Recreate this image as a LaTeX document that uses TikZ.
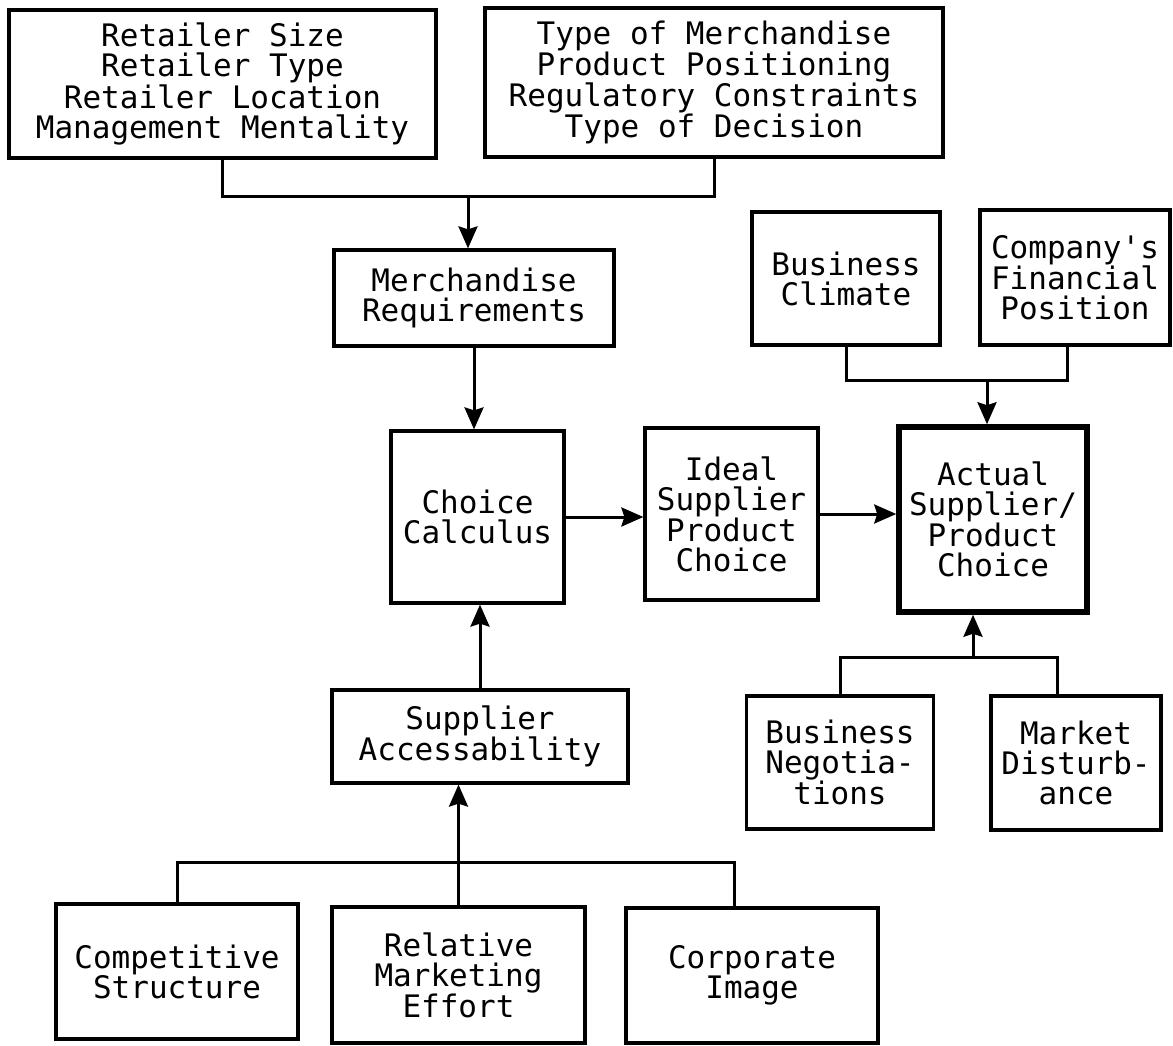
\documentclass[tikz,border=0pt]{standalone}
\usepackage{fontspec}
\setmonofont{DejaVu Sans Mono}
\usetikzlibrary{arrows.meta}
\newcommand\plotfont{\ttfamily\fontsize{31}{30}\selectfont}
\tikzset{
  box/.style={draw, line width=3.2pt, inner sep=0pt, align=center, font=\plotfont},
  heavybox/.style={box, line width=5.5pt},
  link/.style={line width=3pt},
  arr/.style={link, -{Stealth[length=22pt, width=19pt, inset=3pt]}},
}
\begin{document}
\begin{tikzpicture}[x=1pt, y=-1pt]
  \useasboundingbox (0,0) rectangle (1173,1046);

  % retailer and merchandise factors
  \node[box, minimum width=427, minimum height=148] (retail) at (222.5,84)
    {Retailer Size\\Retailer Type\\Retailer Location\\Management Mentality};
  \node[box, minimum width=458, minimum height=149] (merch) at (714,82.5)
    {Type of Merchandise\\Product Positioning\\Regulatory Constraints\\Type of Decision};
  \node[box, minimum width=280, minimum height=96] (mreq) at (474,298)
    {Merchandise\\Requirements};

  % core decision chain
  \node[box, minimum width=173, minimum height=172] (calc) at (477.5,517)
    {Choice\\Calculus};
  \node[box, minimum width=173, minimum height=172] (ideal) at (731.5,514)
    {Ideal\\Supplier\\Product\\Choice};
  \node[heavybox, minimum width=188, minimum height=185] (actual) at (993,519.5)
    {Actual\\Supplier/\\Product\\Choice};

  % environmental influences
  \node[box, minimum width=188, minimum height=133] (climate) at (846,278.5)
    {Business\\Climate};
  \node[box, minimum width=190, minimum height=135] (finance) at (1075,277.5)
    {Company's\\Financial\\Position};
  \node[box, minimum width=187, minimum height=133] (negot) at (840,762.5)
    {Business\\Negotia-\\tions};
  \node[box, minimum width=170, minimum height=134] (disturb) at (1076,763)
    {Market\\Disturb-\\ance};

  % supplier side
  \node[box, minimum width=296, minimum height=93] (access) at (480,736.5)
    {Supplier\\Accessability};
  \node[box, minimum width=242, minimum height=135] (compet) at (177,971.5)
    {Competitive\\Structure};
  \node[box, minimum width=253, minimum height=136] (market) at (458.5,975)
    {Relative\\Marketing\\Effort};
  \node[box, minimum width=252, minimum height=135] (image) at (752,975.5)
    {Corporate\\Image};

  % junction points and taps of the bracket connectors
  \coordinate (jtop) at (468,196);
  \coordinate (jright) at (987,380);
  \coordinate (financetap) at (1067,345);
  \coordinate (jlow) at (973,657);
  \coordinate (disturbtap) at (1057,696);
  \coordinate (jbottom) at (458.5,862);
  \coordinate (imagetap) at (734,908);

  % top bracket into merchandise requirements
  \draw[link] (retail.south) |- (jtop) -| (merch.south);
  \draw[arr] (jtop) -- (jtop |- mreq.north);
  \draw[arr] (mreq.south) -- (mreq.south |- calc.north);

  % horizontal chain
  \draw[arr] (calc.east) -- (calc.east -| ideal.west);
  \draw[arr] (ideal.east) -- (ideal.east -| actual.west);

  % climate and finance into actual choice
  \draw[link] (climate.south) |- (jright) -| (financetap);
  \draw[arr] (jright) -- (jright |- actual.north);

  % negotiations and disturbance into actual choice
  \draw[link] (negot.north) |- (jlow) -| (disturbtap);
  \draw[arr] (jlow) -- (jlow |- actual.south);

  % supplier accessability into choice calculus
  \draw[arr] (access.north) -- (access.north |- calc.south);

  % bottom bracket into supplier accessability
  \draw[link] (compet.north) |- (jbottom) -| (imagetap);
  \draw[arr] (market.north) -- (market.north |- access.south);
\end{tikzpicture}
\end{document}
